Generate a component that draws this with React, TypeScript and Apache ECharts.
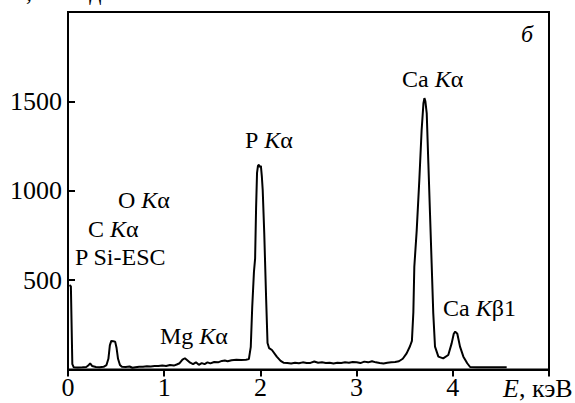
import React, { useEffect, useRef } from "react";
import * as echarts from "echarts";

const energy = [
  0.015, 0.03, 0.045, 0.06, 0.1, 0.15, 0.19, 0.21, 0.23, 0.25, 0.29, 0.33, 0.37, 0.4, 0.42, 0.435, 0.45, 0.47, 0.49,
  0.505, 0.52, 0.54, 0.56, 0.6, 0.64, 0.67, 0.7, 0.74, 0.78, 0.82, 0.86, 0.9, 0.94, 0.98, 1.02, 1.06, 1.1, 1.13,
  1.16, 1.19, 1.215, 1.24, 1.27, 1.3, 1.33, 1.36, 1.39, 1.42, 1.45, 1.48, 1.52, 1.56, 1.6, 1.63, 1.66, 1.7, 1.75,
  1.8, 1.85, 1.88, 1.9, 1.915, 1.933, 1.945, 1.955, 1.965, 1.975, 1.985, 1.995, 2.005, 2.015, 2.024, 2.04, 2.06,
  2.074, 2.09, 2.12, 2.17, 2.21, 2.24, 2.28, 2.32, 2.36, 2.4, 2.44, 2.48, 2.52, 2.56, 2.6, 2.64, 2.68, 2.72, 2.76,
  2.8, 2.84, 2.88, 2.92, 2.96, 3.0, 3.04, 3.08, 3.12, 3.16, 3.2, 3.24, 3.28, 3.32, 3.36, 3.4, 3.44, 3.48, 3.52,
  3.555, 3.575, 3.59, 3.6, 3.625, 3.652, 3.676, 3.695, 3.705, 3.715, 3.729, 3.746, 3.763, 3.78, 3.797, 3.815, 3.85,
  3.9, 3.953, 3.988, 4.01, 4.025, 4.047, 4.075, 4.11, 4.15, 4.18, 4.25, 4.35, 4.45, 4.56,
];
const counts = [
  472, 466, 30, 12, 11, 12, 14, 22, 34, 20, 14, 13, 15, 25, 60, 135, 160, 158, 156,
  120, 60, 25, 15, 14, 17, 10, 13, 16, 15, 18, 17, 20, 19, 22, 20, 25, 22, 28,
  35, 55, 63, 52, 38, 30, 40, 26, 36, 30, 40, 34, 42, 40, 48, 50, 46, 52, 54,
  53, 55, 58, 127, 350, 547, 620, 900, 1100, 1140, 1145, 1132, 1140, 1080, 1004, 763, 389,
  148, 120, 109, 72, 48, 38, 36, 34, 38, 35, 40, 36, 37, 45, 38, 40, 36, 38, 34,
  38, 37, 40, 38, 42, 40, 36, 44, 40, 46, 40, 36, 34, 38, 40, 42, 46, 60, 90,
  130, 160, 320, 575, 780, 1060, 1340, 1490, 1518, 1500, 1433, 1153, 873, 594, 314, 128, 72,
  62, 81, 146, 200, 212, 200, 128, 72, 35, 14, 12, 12, 12, 12,
];

const xTicks = [0, 1, 2, 3, 4, 5];
const xTickLabels = [0, 1, 2, 3, 4];
const yTickLabels = [500, 1000, 1500];

const FONT = "Liberation Serif";

export default function App() {
  const ref = useRef<HTMLDivElement>(null);
  useEffect(() => {
    if (!ref.current) return;
    const chart = echarts.init(ref.current, null, { renderer: "svg" });
    const data = energy.map((e, i) => [e, counts[i]]);
    // Plain text segments (no rich): each label is a group of text pieces
    const seg = (x: number, y: number, parts: [string, boolean][], size = 24) => {
      const children: any[] = [];
      let cx = 0;
      parts.forEach(([t, it]) => {
        const font = `${it ? "italic " : ""}${size}px ${FONT}`;
        const w = echarts.format.getTextRect
          ? (echarts as any).format.getTextRect(t, font).width
          : t.length * size * 0.5;
        children.push({
          type: "text",
          x: cx,
          y: 0,
          style: {
            text: t,
            fontFamily: FONT,
            fontSize: size,
            fontStyle: it ? "italic" : "normal",
            fill: "#000",
            verticalAlign: "middle",
            align: "left",
          },
        });
        cx += w;
      });
      return { type: "group", x, y, children };
    };
    chart.setOption({
      animation: false,
      textStyle: { fontFamily: FONT },
      grid: {
        left: 68,
        right: 26,
        top: 12,
        bottom: 33.5,
        show: true,
        borderColor: "#000",
        borderWidth: 2,
        backgroundColor: "transparent",
      },
      xAxis: {
        type: "value",
        min: 0,
        max: 5,
        interval: 1,
        axisLine: { show: true, onZero: false, lineStyle: { color: "#000", width: 2 } },
        axisTick: { show: true, inside: false, length: 7, customValues: xTicks, lineStyle: { color: "#000", width: 2 } },
        axisLabel: {
          color: "#000",
          fontFamily: FONT,
          fontSize: 26,
          margin: 5,
          customValues: xTickLabels,
          formatter: (v: number) => String(v),
        },
        splitLine: { show: false },
      },
      yAxis: {
        type: "value",
        min: 0,
        max: 2000,
        interval: 500,
        axisLine: { show: true, onZero: false, lineStyle: { color: "#000", width: 2 } },
        axisTick: { show: true, inside: true, length: 7, customValues: yTickLabels, lineStyle: { color: "#000", width: 2 } },
        axisLabel: {
          color: "#000",
          fontFamily: FONT,
          fontSize: 26,
          margin: 6,
          customValues: yTickLabels,
          formatter: (v: number) => String(v),
        },
        splitLine: { show: false },
      },
      series: [
        {
          type: "line",
          data,
          showSymbol: false,
          symbol: "none",
          lineStyle: { color: "#000", width: 2 },
          smooth: false,
        },
      ],
      graphic: [
        seg(402, 79, [["Ca ", false], ["K", true], ["α", false]]),
        seg(245, 140, [["P ", false], ["K", true], ["α", false]]),
        seg(118, 200, [["O ", false], ["K", true], ["α", false]]),
        seg(88, 229, [["C ", false], ["K", true], ["α", false]]),
        seg(75, 257, [["P Si-ESC", false]]),
        seg(160, 336, [["Mg ", false], ["K", true], ["α", false]]),
        seg(443, 308, [["Ca ", false], ["K", true], ["β1", false]]),
        seg(521, 34, [["б", true]]),
        seg(18, -8, [["I", true], [", отн.ед.", false]]),
        seg(503, 388, [["E", true], [", кэВ", false]], 26),
      ],
    });
    return () => chart.dispose();
  }, []);
  return (
    <div
      ref={ref}
      style={{ position: "fixed", left: 0, top: 0, width: 575, height: 403, background: "#fff" }}
    />
  );
}
